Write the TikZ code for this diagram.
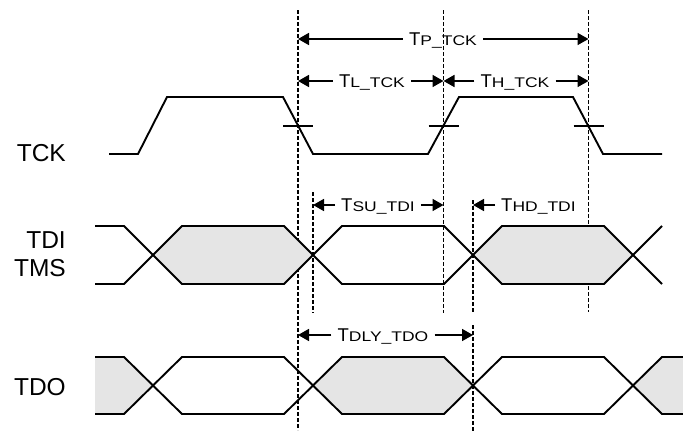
\documentclass[tikz,border=0pt]{standalone}
\usepackage{fontspec}
\setmainfont{Liberation Sans}
\usetikzlibrary{arrows.meta}

\tikzset{
  wave/.style={line width=1.9pt, line join=miter},
  guide/.style={line width=1.4pt, dash pattern=on 4pt off 2pt},
  dim/.style={line width=1.7pt, -{Triangle[length=11pt,width=12pt]}},
  sig/.style={font=\fontsize{24.5}{24.5}\selectfont, inner sep=0pt},
  tlab/.style={font=\fontsize{18.5}{18.5}\selectfont, inner xsep=6pt, inner ysep=0pt,
    text height=13.2pt, text depth=0pt},
  busfill/.style={fill=black!10},
}
\newcommand{\tsub}[1]{{\fontsize{14}{14}\selectfont\addfontfeature{FakeStretch=1.25}#1}}

\begin{document}
\begin{tikzpicture}[x=1pt,y=-1pt]
\useasboundingbox (0,0) rectangle (683,434);

% signal names
\node[sig, anchor=east] (tck) at (66,153) {TCK};
\node[sig, anchor=east] (tdi) at (66,240) {TDI};
\node[sig, anchor=east] (tms) at (66,268) {TMS};
\node[sig, anchor=east] (tdo) at (66,387) {TDO};

% guide lines
\coordinate (g1t) at (298,10);   \coordinate (g1b) at (298,430);
\coordinate (g2t) at (443.5,10); \coordinate (g2b) at (443.5,313);
\coordinate (g3t) at (588.5,10); \coordinate (g3b) at (588.5,312);
\coordinate (gsut) at (313,192); \coordinate (gsub) at (313,313);
\coordinate (ghdt) at (473,200); \coordinate (ghdb) at (473,313);
\coordinate (gdlt) at (473,325); \coordinate (gdlb) at (473,432);
\foreach \a in {g1,g2,g3,gsu,ghd,gdl}
  \draw[guide] (\a t) -- (\a b);

% bus fills
\fill[busfill] (153,255) -- (182,226) -- (284,226) -- (313,255) -- (284,284) -- (182,284) -- cycle;
\fill[busfill] (473,255) -- (502,226) -- (604,226) -- (633,255) -- (604,284) -- (502,284) -- cycle;
\fill[busfill] (95,357) -- (124,357) -- (153,385.5) -- (124,414) -- (95,414) -- cycle;
\fill[busfill] (313,385.5) -- (342,357) -- (444,357) -- (473,385.5) -- (444,414) -- (342,414) -- cycle;
\fill[busfill] (633,385.5) -- (662,357) -- (683,357) -- (683,414) -- (662,414) -- cycle;

% TCK
\draw[wave] (109,154) -- (138,154) -- (167,97) -- (283,97) -- (313,154) -- (428,154)
  -- (459,97) -- (573,97) -- (603,154) -- (662,154);
\foreach \x in {298,443.5,588.5}
  \draw[wave] (\x-15,126) -- (\x+15,126);

% TDI / TMS
\draw[wave] (95,226) -- (124,226) -- (182,284) -- (284,284) -- (342,226) -- (444,226)
  -- (502,284) -- (604,284) -- (662,226);
\draw[wave] (95,284) -- (124,284) -- (182,226) -- (284,226) -- (342,284) -- (444,284)
  -- (502,226) -- (604,226) -- (662,284);

% TDO
\draw[wave] (95,357) -- (124,357) -- (182,414) -- (284,414) -- (342,357) -- (444,357)
  -- (502,414) -- (604,414) -- (662,357) -- (683,357);
\draw[wave] (95,414) -- (124,414) -- (182,357) -- (284,357) -- (342,414) -- (444,414)
  -- (502,357) -- (604,357) -- (662,414) -- (683,414);

% timing labels
\node[tlab] (tp) at (443,39) {T\tsub{P\_TCK}};
\draw[dim] (tp) -- (tp -| g1t);
\draw[dim] (tp) -- (tp -| g3t);
\node[tlab] (tl) at (372,81) {T\tsub{L\_TCK}};
\draw[dim] (tl) -- (tl -| g1t);
\draw[dim] (tl) -- (tl -| g2t);
\node[tlab] (th) at (515,81) {T\tsub{H\_TCK}};
\draw[dim] (th) -- (th -| g2t);
\draw[dim] (th) -- (th -| g3t);
\node[tlab] (tsu) at (378,205) {T\tsub{SU\_TDI}};
\draw[dim] (tsu) -- (tsu -| gsut);
\draw[dim] (tsu) -- (tsu -| g2t);
\node[tlab, anchor=west] (thd) at (495,205) {T\tsub{HD\_TDI}};
\draw[dim] (thd) -- (thd -| ghdt);
\node[tlab] (tdly) at (383,335) {T\tsub{DLY\_TDO}};
\draw[dim] (tdly) -- (tdly -| g1t);
\draw[dim] (tdly) -- (tdly -| gdlt);
\end{tikzpicture}
\end{document}
